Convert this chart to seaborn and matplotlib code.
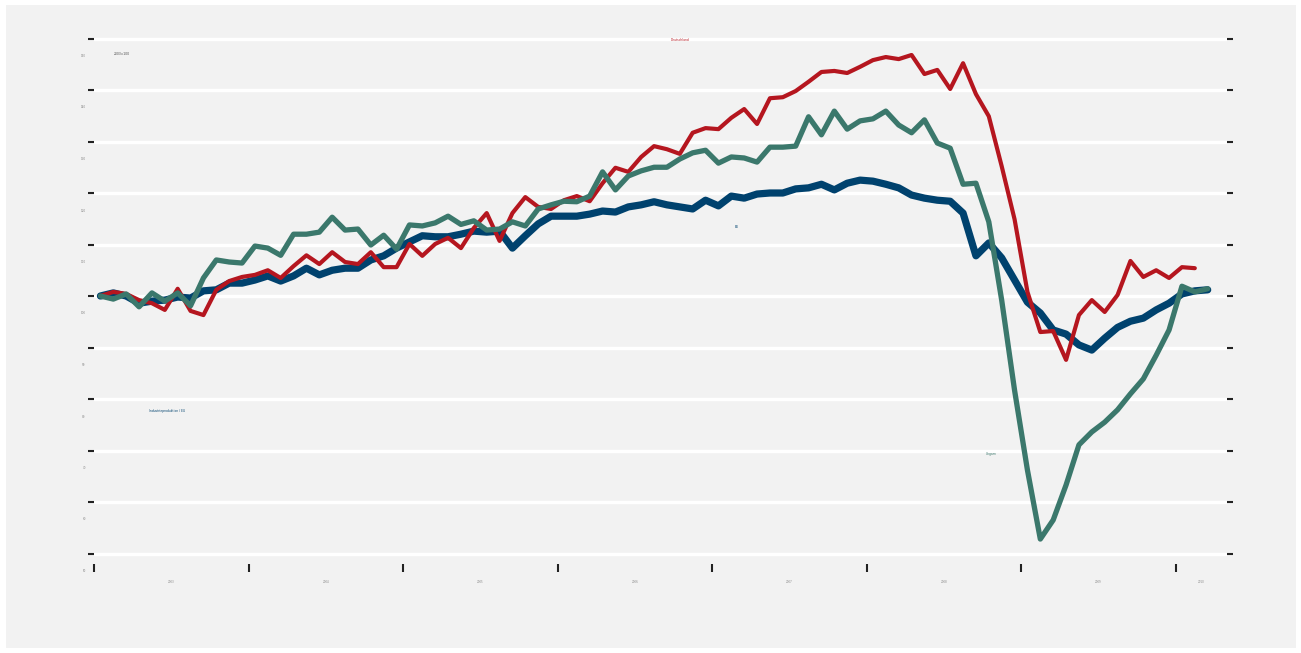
import numpy as np
import pandas as pd
import seaborn as sns
import matplotlib.pyplot as plt
import matplotlib.transforms as mtransforms
from matplotlib.patches import Rectangle

# monthly index values, Jan 2003 onwards (2003 = 100)
eu = [100.0, 100.6, 100.0, 98.6, 99.0, 99.2, 99.8, 99.6, 101.0, 101.2,
      102.5, 102.5, 103.1, 103.9, 102.9, 103.9, 105.4, 104.1, 105.0, 105.4,
      105.4, 107.0, 107.8, 109.3, 110.5, 111.7, 111.5, 111.5, 112.0, 112.6,
      112.4, 112.6, 109.3, 111.7, 114.0, 115.5, 115.5, 115.5, 115.9, 116.5,
      116.3, 117.3, 117.7, 118.3, 117.7, 117.3, 116.9, 118.6, 117.5, 119.4,
      119.0, 119.8, 120.0, 120.0, 120.8, 121.0, 121.7, 120.6, 121.9, 122.5,
      122.3, 121.7, 121.0, 119.6, 119.0, 118.6, 118.4, 116.1, 107.8, 110.3,
      107.4, 103.1, 98.8, 96.7, 93.4, 92.6, 90.5, 89.5, 91.8, 93.9,
      95.1, 95.7, 97.3, 98.6, 100.4, 101.0, 101.2]

deutschland = [100.0, 100.8, 100.4, 99.2, 98.6, 97.3, 101.4, 97.1, 96.3, 101.2,
               102.9, 103.7, 104.1, 105.0, 103.5, 105.8, 107.9, 106.2, 108.5, 106.6,
               106.2, 108.5, 105.6, 105.6, 110.1, 107.8, 110.1, 111.3, 109.3, 113.2,
               116.1, 110.7, 116.1, 119.2, 117.3, 116.9, 118.6, 119.4, 118.4, 121.9,
               124.9, 124.1, 127.0, 129.1, 128.5, 127.6, 131.7, 132.6, 132.4, 134.6,
               136.3, 133.4, 138.4, 138.6, 139.8, 141.6, 143.5, 143.7, 143.3, 144.5,
               145.8, 146.4, 146.0, 146.8, 143.1, 143.9, 140.2, 145.2, 139.2, 134.9,
               125.2, 114.9, 100.8, 93.0, 93.2, 87.6, 96.3, 99.2, 96.9, 100.2,
               106.8, 103.7, 105.0, 103.5, 105.6, 105.4]

ungarn = [100.0, 99.4, 100.4, 97.9, 100.6, 99.0, 100.6, 98.1, 103.5, 107.0,
          106.6, 106.4, 109.7, 109.3, 107.9, 112.0, 112.0, 112.4, 115.3, 112.8,
          113.0, 109.9, 111.8, 109.1, 113.8, 113.6, 114.2, 115.5, 113.9, 114.6,
          112.8, 113.0, 114.4, 113.6, 116.9, 117.7, 118.4, 118.3, 119.4, 124.1,
          120.6, 123.3, 124.3, 125.0, 125.0, 126.6, 127.8, 128.3, 125.8, 127.0,
          126.8, 126.0, 128.9, 128.9, 129.1, 134.8, 131.3, 135.9, 132.4, 134.0,
          134.4, 135.9, 133.2, 131.7, 134.2, 129.7, 128.7, 121.7, 121.9, 114.4,
          99.2, 81.7, 66.2, 52.8, 56.5, 63.3, 71.1, 73.6, 75.5, 77.9,
          81.0, 83.9, 88.5, 93.4, 101.9, 100.8, 101.4]

start_year = 2003
year_ticks = list(range(2003, 2011))
y_ticks = list(range(50, 151, 10))

colors = {"EU": "#00426e", "Deutschland": "#b5161f", "Ungarn": "#3b786c"}
widths = {"EU": 5.2, "Deutschland": 3.0, "Ungarn": 3.8}


def to_frame(name, values):
    x = start_year + (np.arange(len(values)) + 0.5) / 12
    return pd.DataFrame({"t": x, "wert": values, "serie": name})


df = pd.concat([to_frame("EU", eu),
                to_frame("Deutschland", deutschland),
                to_frame("Ungarn", ungarn)], ignore_index=True)

sns.set_style("white", {"axes.facecolor": "#f2f2f2"})
plt.rcParams['font.family'] = ['DejaVu Sans']

fig = plt.figure(figsize=(13.01, 6.53), dpi=100)
fig.patch.set_facecolor("white")
fig.patches.append(Rectangle((6 / 1301, 5 / 653), 1290 / 1301, 643 / 653,
                             transform=fig.transFigure, facecolor="#f2f2f2",
                             edgecolor="none", zorder=-10))
ax = fig.add_axes([94 / 1301, 1 - 563.8 / 653, (1227 - 94) / 1301, (563.8 - 28.2) / 653])

for name in ["EU", "Deutschland", "Ungarn"]:
    sns.lineplot(data=df[df.serie == name], x="t", y="wert", color=colors[name],
                 linewidth=widths[name], ax=ax, legend=False, zorder=3)

x_end = start_year + 88 / 12
ax.set_xlim(start_year, x_end)
ax.set_ylim(48, 152)
for s in ax.spines.values():
    s.set_visible(False)

ax.set_yticks(y_ticks)
ax.set_yticklabels([str(v) for v in y_ticks])
ax.grid(axis="y", color="white", linewidth=2.4, zorder=1)
ax.tick_params(axis="y", which="both", left=True, right=True, length=4, width=1.5,
               color="#222222", labelsize=2, labelcolor="#888888", pad=2)
offset = mtransforms.ScaledTranslation(0, -0.17, fig.dpi_scale_trans)
for lab in ax.get_yticklabels():
    lab.set_transform(lab.get_transform() + offset)

ax.set_xticks(year_ticks)
ax.set_xticklabels([])
mids = [y + 0.5 for y in year_ticks[:-1]] + [(year_ticks[-1] + x_end) / 2]
ax.set_xticks(mids, minor=True)
ax.set_xticklabels([str(y) for y in year_ticks], minor=True)
ax.tick_params(axis="x", which="major", bottom=True, length=6, width=1.5, color="#222222")
ax.tick_params(axis="x", which="minor", bottom=True, length=0, labelsize=2,
               labelcolor="#888888", pad=12)
ax.set_xlabel("")
ax.set_ylabel("")

fig.text(114 / 1301, 1 - 54 / 653, "2003=100", fontsize=2.2, color="#444444", va="center")
fig.text(680 / 1301, 1 - 40 / 653, "Deutschland", fontsize=2.2, color=colors["Deutschland"],
         ha="center", va="center")
fig.text(737 / 1301, 1 - 227 / 653, "EU", fontsize=2.2, color=colors["EU"],
         ha="center", va="center")
fig.text(991 / 1301, 1 - 454 / 653, "Ungarn", fontsize=2.2, color=colors["Ungarn"],
         ha="center", va="center")
fig.text(167 / 1301, 1 - 411 / 653, "Industrieproduktion / EU", fontsize=2.2,
         color=colors["EU"], ha="center", va="center")

fig.savefig("out.png", dpi=100)
